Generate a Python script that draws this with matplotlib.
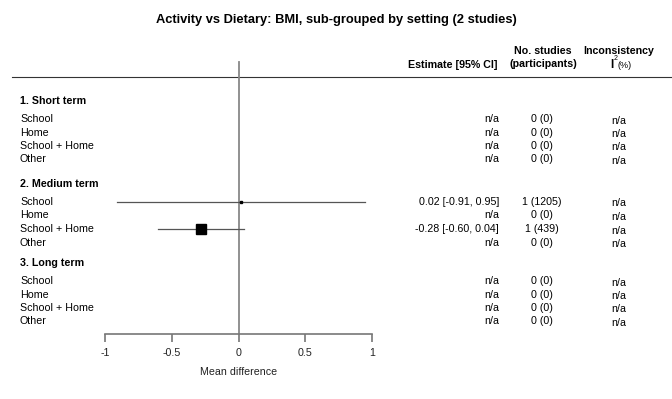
import numpy as np
import matplotlib
matplotlib.use("Agg")
from matplotlib import pyplot as plt

plt.rcParams['font.family'] = ['Liberation Sans', 'DejaVu Sans']

title = "Activity vs Dietary: BMI, sub-grouped by setting (2 studies)"
groups = ["1. Short term", "2. Medium term", "3. Long term"]
settings = ["School", "Home", "School + Home", "Other"]
# estimate, lower, upper per group x setting (nan = n/a)
est = [[np.nan]*4, [0.02, np.nan, -0.28, np.nan], [np.nan]*4]
low = [[np.nan]*4, [-0.91, np.nan, -0.60, np.nan], [np.nan]*4]
upp = [[np.nan]*4, [0.95, np.nan, 0.04, np.nan], [np.nan]*4]
nstud = [["0 (0)"]*4, ["1 (1205)", "0 (0)", "1 (439)", "0 (0)"], ["0 (0)"]*4]
marker_ms = [[0]*4, [2, 0, 7, 0], [0]*4]
xticks = [-1, -0.5, 0, 0.5, 1]

W, H = 672, 399
FS = 7.7
fig = plt.figure(figsize=(W/100, H/100), dpi=100)

# overlay in pixel coords for the text
tx = fig.add_axes([0, 0, 1, 1])
tx.set_xlim(0, W); tx.set_ylim(H, 0); tx.axis('off')

# forest axes: -1..1 over pixels 105..372
fx = fig.add_axes([105/W, 0, 267/W, 1])
fx.set_xlim(-1, 1); fx.set_ylim(H, 0)
fx.patch.set_alpha(0)
for s in ['top', 'right', 'left']:
    fx.spines[s].set_visible(False)
fx.spines['bottom'].set_position(('data', 334))
fx.spines['bottom'].set_color('#777777')
fx.spines['bottom'].set_linewidth(1.2)
fx.set_yticks([])
fx.set_xticks(xticks)
fx.set_xticklabels([f"{t:g}" for t in xticks], fontsize=FS, color='#222222')
fx.tick_params(axis='x', length=6, width=1.2, color='#777777', pad=4)
fx.set_xlabel("Mean difference", fontsize=FS, color='#222222')
fx.xaxis.set_label_coords(0.5, 1 - 372/H, transform=fx.transAxes)
fx.xaxis.label.set_va('center')
fx.axvline(0, ymin=1-334/H, ymax=1-62/H, color='#888888', lw=1.3)

tx.text(W/2, 20, title, ha='center', va='center', fontsize=9.3, fontweight='bold')
tx.plot([12, W], [77, 77], color='#333333', lw=0.8)
tx.text(497, 65, "Estimate [95% CI]", ha='right', va='center', fontsize=FS, fontweight='bold')
tx.text(543, 51, "No. studies", ha='center', va='center', fontsize=FS, fontweight='bold')
tx.text(543, 64, "(participants)", ha='center', va='center', fontsize=FS, fontweight='bold')
tx.text(619, 51, "Inconsistency", ha='center', va='center', fontsize=FS, fontweight='bold')
tx.text(612, 65, "I", ha='center', va='center', fontsize=8.5, fontweight='bold')
tx.text(614, 58, "2", ha='left', va='center', fontsize=5)
tx.text(618, 66, "(%)", ha='left', va='center', fontsize=6.5)

group_y = [101, 184, 263]
row_off = [18, 31.5, 45, 58.5]
for g, gy in enumerate(group_y):
    tx.text(20, gy, groups[g], ha='left', va='center', fontsize=FS, fontweight='bold')
    for r, name in enumerate(settings):
        y = gy + row_off[r]
        tx.text(20, y, name, ha='left', va='center', fontsize=FS)
        e, lo, hi = est[g][r], low[g][r], upp[g][r]
        if np.isnan(e):
            lab = "n/a"
        else:
            lab = f"{e:.2f} [{lo:.2f}, {hi:.2f}]"
            fx.plot([lo, hi], [y, y], color='#555555', lw=0.9, zorder=3)
            fx.plot([e], [y], marker='s', ms=marker_ms[g][r], color='black', zorder=4)
        tx.text(499, y, lab, ha='right', va='center', fontsize=FS)
        tx.text(542, y, nstud[g][r], ha='center', va='center', fontsize=FS)
        tx.text(619, y + 1.5, "n/a", ha='center', va='center', fontsize=FS)

fig.savefig("out.png", dpi=100)
